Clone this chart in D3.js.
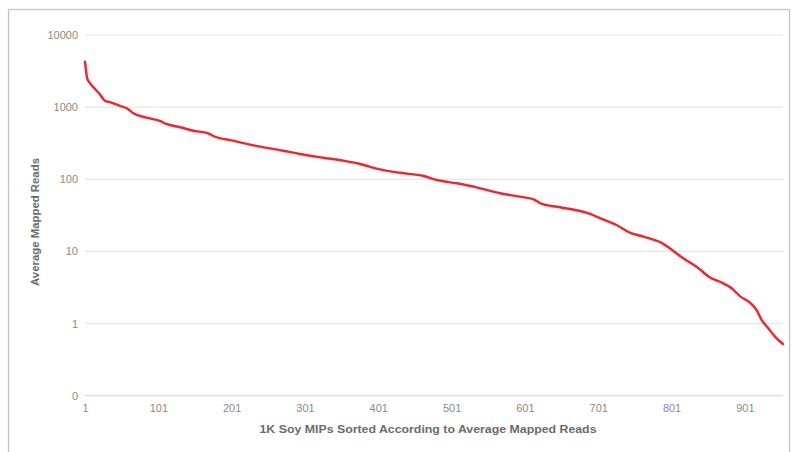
<!DOCTYPE html>
<html>
<head>
<meta charset="utf-8">
<script src="https://cdn.jsdelivr.net/npm/d3@7"></script>
<style>
  html, body { margin: 0; padding: 0; background: #fff; }
  svg { display: block; font-family: "Liberation Sans", Arial, sans-serif; }
</style>
</head>
<body>
<svg id="chart" width="794" height="452"></svg>
<script>
// Rank of each MIP after sorting by average mapped reads (1 = most reads)
const ranks = [1, 4, 8, 15, 21, 28, 35, 49, 58, 67, 85, 103, 112, 131, 149, 169, 176,
  203, 240, 271, 294, 326, 353, 376, 403, 431, 463, 481, 508, 535, 558, 567, 594,
  613, 622, 649, 685, 704, 726, 744, 763, 790, 799, 817, 835, 854, 867, 883, 895,
  908, 917, 924, 933, 942, 953];
// Average mapped reads at each rank
const reads = [4270, 2510, 2140, 1770, 1520, 1230, 1170, 1040, 964, 822, 714, 643, 584,
  526, 471, 434, 398, 343, 283, 249, 224, 199, 181, 163, 137, 123, 111, 97.7, 88,
  77.4, 67.3, 64, 57.4, 52.8, 46.4, 40.9, 34.4, 28.8, 23.2, 18.2, 16.0, 12.7, 11.0,
  8.03, 6.14, 4.32, 3.80, 3.08, 2.36, 1.95, 1.54, 1.12, 0.86, 0.66, 0.52];

const xTicks = [1, 101, 201, 301, 401, 501, 601, 701, 801, 901];
const yTicks = [0.1, 1, 10, 100, 1000, 10000];
const xTitle = "1K Soy MIPs Sorted According to Average Mapped Reads";
const yTitle = "Average Mapped Reads";

const svg = d3.select("#chart");
const plotLeft = 85, plotRight = 783, plotTop = 35, plotBottom = 395.7;

const x = d3.scaleLinear().domain([1, 953]).range([plotLeft, plotRight]);
const y = d3.scaleLog().domain([0.1, 10000]).range([plotBottom, plotTop]);

// chart frame
svg.append("rect")
  .attr("x", 8.5).attr("y", 9.5)
  .attr("width", 781).attr("height", 460)
  .attr("fill", "none").attr("stroke", "#c4c4c4").attr("stroke-width", 1.3);

// horizontal gridlines
svg.append("g").selectAll("line").data(yTicks).join("line")
  .attr("x1", plotLeft).attr("x2", plotRight)
  .attr("y1", d => y(d)).attr("y2", d => y(d))
  .attr("stroke", d => d === 0.1 ? "#d9d9d9" : "#e6e6e6")
  .attr("stroke-width", 1.2);

// y axis labels
const yAxis = d3.axisLeft(y).tickValues(yTicks).tickSize(0).tickPadding(7)
  .tickFormat(d => d < 1 ? "0" : d3.format("d")(d));
svg.append("g").attr("transform", `translate(${plotLeft},0)`).call(yAxis)
  .call(g => g.select(".domain").remove())
  .selectAll("text")
  .attr("font-family", "Liberation Sans, Arial, sans-serif")
  .attr("font-size", 11).attr("fill", "#8a8a8a");

// x axis labels
const xAxis = d3.axisBottom(x).tickValues(xTicks).tickSize(0).tickPadding(9)
  .tickFormat(d3.format("d"));
svg.append("g").attr("transform", `translate(0,${plotBottom})`).call(xAxis)
  .call(g => g.select(".domain").remove())
  .selectAll("text")
  .attr("font-family", "Liberation Sans, Arial, sans-serif")
  .attr("font-size", 11).attr("fill", "#8a8a8a");

// series line
const line = d3.line()
  .x((d, i) => x(ranks[i]))
  .y(d => y(d))
  .curve(d3.curveMonotoneX);
svg.append("path")
  .datum(reads)
  .attr("d", line)
  .attr("fill", "none")
  .attr("stroke", "#f5222b")
  .attr("stroke-width", 2.4)
  .attr("stroke-linejoin", "round")
  .attr("stroke-linecap", "round");

// axis titles
svg.append("text")
  .attr("x", 428).attr("y", 433)
  .attr("text-anchor", "middle")
  .attr("font-size", 11.5).attr("font-weight", "bold").attr("fill", "#6b6b6b")
  .attr("textLength", 337).attr("lengthAdjust", "spacingAndGlyphs")
  .text(xTitle);

svg.append("text")
  .attr("transform", "translate(39,222) rotate(-90)")
  .attr("text-anchor", "middle")
  .attr("font-size", 11.5).attr("font-weight", "bold").attr("fill", "#6b6b6b")
  .attr("textLength", 128).attr("lengthAdjust", "spacingAndGlyphs")
  .text(yTitle);
</script>
</body>
</html>
